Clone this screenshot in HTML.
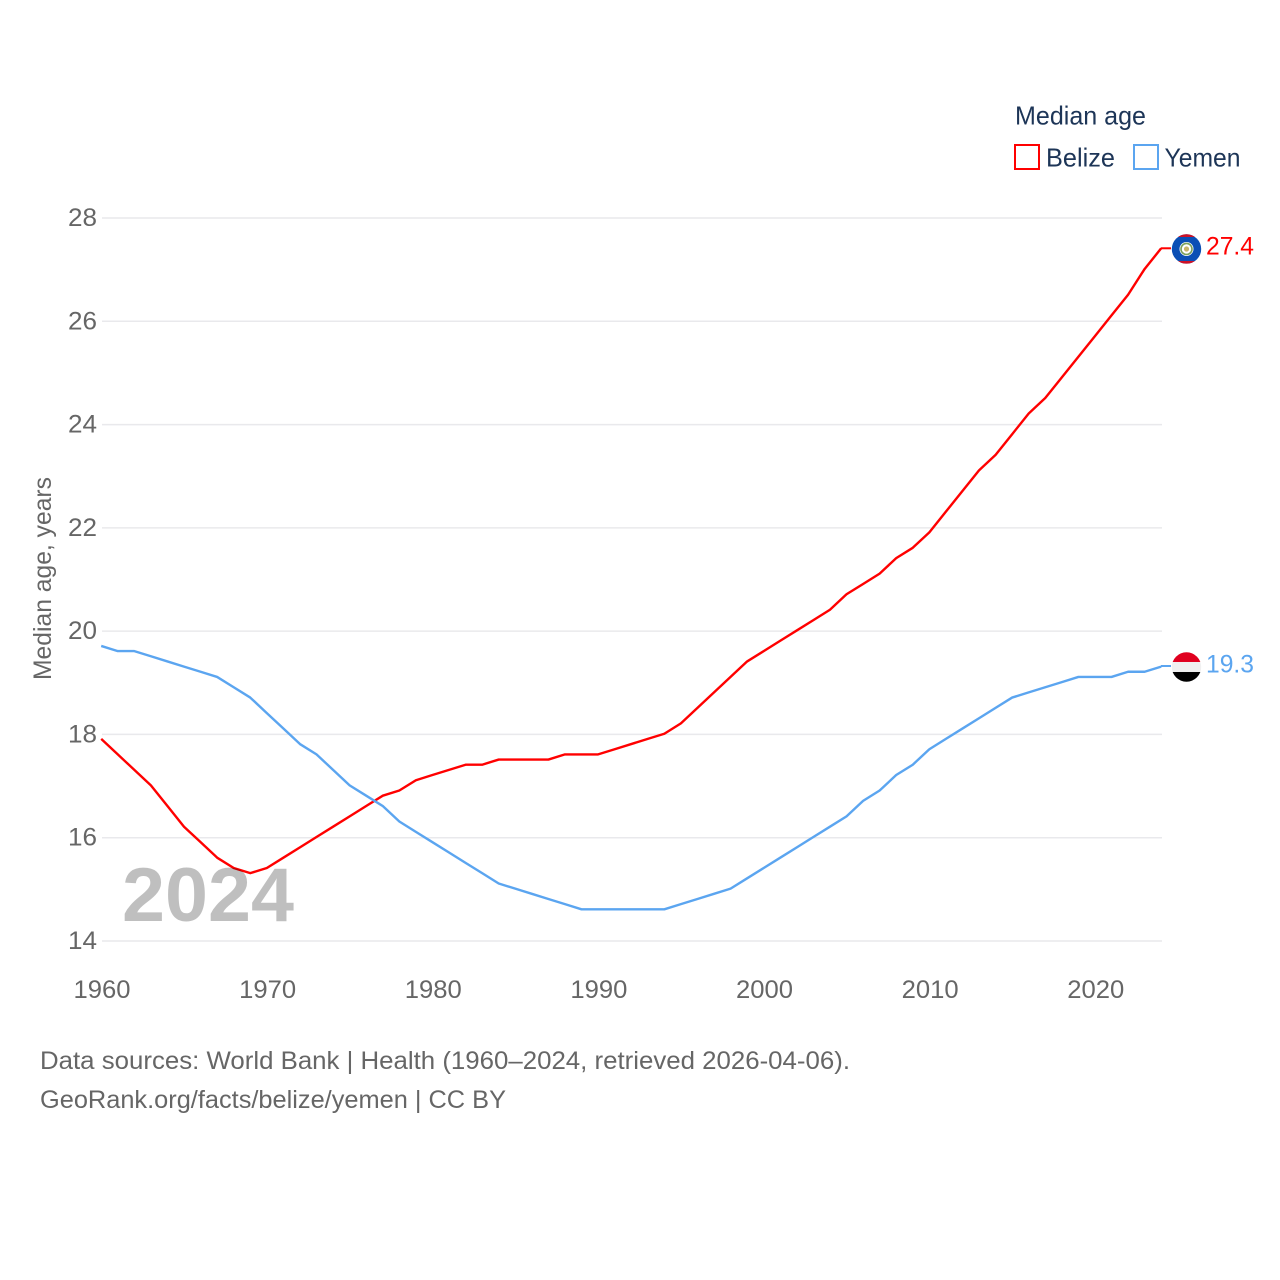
<!DOCTYPE html>
<html lang="en">
<head>
<meta charset="utf-8">
<title>Median age: Belize and Yemen</title>
<style>
html,body{margin:0;padding:0;background:#fff;}
svg{display:block;}
text{font-family:"Liberation Sans",sans-serif;}
</style>
</head>
<body>
<svg id="chart" xmlns="http://www.w3.org/2000/svg" width="1280" height="1280" viewBox="0 0 1280 1280">
  <rect width="1280" height="1280" fill="#ffffff"/>
  <g id="grid"></g>
  <g id="yticks"></g>
  <g id="xticks"></g>
  <text transform="translate(51,680) rotate(-90)" font-size="25" fill="#666666" textLength="203" lengthAdjust="spacingAndGlyphs">Median age, years</text>
  <g id="series" transform="translate(-0.8,-0.7)"></g>
  <text id="watermark" x="122" y="921" font-size="76" font-weight="700" fill="#000000" fill-opacity="0.25" textLength="172" lengthAdjust="spacingAndGlyphs">2024</text>

  <g>
    <text x="1015" y="124.5" font-size="26" fill="#1d3557" textLength="131" lengthAdjust="spacingAndGlyphs">Median age</text>
    <g>
      <rect x="1015" y="145" width="24" height="24" fill="none" stroke="#ff0000" stroke-width="2"/>
      <text x="1046" y="166.5" font-size="26" fill="#1d3557" textLength="69" lengthAdjust="spacingAndGlyphs">Belize</text>
    </g>
    <g>
      <rect x="1134" y="145" width="24" height="24" fill="none" stroke="#5ba5f0" stroke-width="2"/>
      <text x="1164.5" y="166.5" font-size="26" fill="#1d3557" textLength="76" lengthAdjust="spacingAndGlyphs">Yemen</text>
    </g>
  </g>

  <g id="endmarks"></g>

  <defs>
    <clipPath id="flagclip-b"><circle id="clip-b" cx="1186.5" cy="249" r="14.7"/></clipPath>
    <clipPath id="flagclip-y"><circle id="clip-y" cx="1186.5" cy="667" r="14.7"/></clipPath>
  </defs>

  <text x="40" y="1069" font-size="25" fill="#666666" textLength="810" lengthAdjust="spacingAndGlyphs">Data sources: World Bank | Health (1960–2024, retrieved 2026-04-06).</text>
  <text x="40" y="1108" font-size="25" fill="#666666" textLength="466" lengthAdjust="spacingAndGlyphs">GeoRank.org/facts/belize/yemen | CC BY</text>
</svg>
<script>
const years = [1960,1961,1962,1963,1964,1965,1966,1967,1968,1969,1970,1971,1972,1973,1974,1975,1976,1977,1978,1979,1980,1981,1982,1983,1984,1985,1986,1987,1988,1989,1990,1991,1992,1993,1994,1995,1996,1997,1998,1999,2000,2001,2002,2003,2004,2005,2006,2007,2008,2009,2010,2011,2012,2013,2014,2015,2016,2017,2018,2019,2020,2021,2022,2023,2024];
const belize = [17.9,17.6,17.3,17.0,16.6,16.2,15.9,15.6,15.4,15.3,15.4,15.6,15.8,16.0,16.2,16.4,16.6,16.8,16.9,17.1,17.2,17.3,17.4,17.4,17.5,17.5,17.5,17.5,17.6,17.6,17.6,17.7,17.8,17.9,18.0,18.2,18.5,18.8,19.1,19.4,19.6,19.8,20.0,20.2,20.4,20.7,20.9,21.1,21.4,21.6,21.9,22.3,22.7,23.1,23.4,23.8,24.2,24.5,24.9,25.3,25.7,26.1,26.5,27.0,27.4];
const yemen = [19.7,19.6,19.6,19.5,19.4,19.3,19.2,19.1,18.9,18.7,18.4,18.1,17.8,17.6,17.3,17.0,16.8,16.6,16.3,16.1,15.9,15.7,15.5,15.3,15.1,15.0,14.9,14.8,14.7,14.6,14.6,14.6,14.6,14.6,14.6,14.7,14.8,14.9,15.0,15.2,15.4,15.6,15.8,16.0,16.2,16.4,16.7,16.9,17.2,17.4,17.7,17.9,18.1,18.3,18.5,18.7,18.8,18.9,19.0,19.1,19.1,19.1,19.2,19.2,19.3];
const yTickValues = [14,16,18,20,22,24,26,28];
const xTickValues = [1960,1970,1980,1990,2000,2010,2020];

const NS = 'http://www.w3.org/2000/svg';
const xScale = function (year) { return 102 + (year - 1960) * (1162 - 102) / (2024 - 1960); };
const yScale = function (value) { return 941 - (value - 14) * (941 - 218) / (28 - 14); };

function make(tag, parent, attrs, content) {
  const el = document.createElementNS(NS, tag);
  Object.keys(attrs).forEach(function (k) { el.setAttribute(k, attrs[k]); });
  if (content !== undefined) el.textContent = content;
  parent.appendChild(el);
  return el;
}

const gridLayer = document.getElementById('grid');
const yLayer = document.getElementById('yticks');
const xLayer = document.getElementById('xticks');
const seriesLayer = document.getElementById('series');
const endLayer = document.getElementById('endmarks');

yTickValues.forEach(function (v) {
  const line = make('line', gridLayer, {x1: 102, x2: 1162, y1: yScale(v), y2: yScale(v), stroke: '#e9e9ec', 'stroke-width': 1.5});
  
  
  const label = make('text', yLayer, {x: 97, y: yScale(v) + 8, 'text-anchor': 'end', 'font-size': 25, fill: '#666666', textLength: 29, lengthAdjust: 'spacingAndGlyphs'}, String(v));
  
  
});

xTickValues.forEach(function (v) {
  const label = make('text', xLayer, {x: xScale(v), y: 998, 'text-anchor': 'middle', 'font-size': 25, fill: '#666666', textLength: 57, lengthAdjust: 'spacingAndGlyphs'}, String(v));
  
  
});

function pointsFor(values) {
  return values.map(function (v, i) { return xScale(years[i]).toFixed(2) + ',' + yScale(v).toFixed(2); }).join(' ');
}

const belizeLine = make('polyline', seriesLayer, {points: pointsFor(belize), fill: 'none', stroke: '#ff0000', 'stroke-width': 2.4, 'stroke-linejoin': 'round'});



const yemenLine = make('polyline', seriesLayer, {points: pointsFor(yemen), fill: 'none', stroke: '#5ba5f0', 'stroke-width': 2.4, 'stroke-linejoin': 'round'});



const lastYear = years[years.length - 1];
const belizeLast = belize[belize.length - 1];
const yemenLast = yemen[yemen.length - 1];
const bx = 1186.5, by = yScale(belizeLast);
const yx = 1186.5, yy = yScale(yemenLast) - 0.3;

document.getElementById('clip-b').setAttribute('cy', by);
document.getElementById('clip-y').setAttribute('cy', yy);

const belizeConnector = make('line', endLayer, {x1: xScale(lastYear) - 1, x2: 1171, y1: by - 0.7, y2: by - 0.7, stroke: '#ff0000', 'stroke-width': 2});



const yemenConnector = make('line', endLayer, {x1: xScale(lastYear) - 1, x2: 1171, y1: yy - 1, y2: yy - 1, stroke: '#5ba5f0', 'stroke-width': 2});



const belizeFlag = make('g', endLayer, {'clip-path': 'url(#flagclip-b)'});


make('rect', belizeFlag, {x: bx - 15, y: by - 15, width: 30, height: 30, fill: '#0b4fb5'});
make('rect', belizeFlag, {x: bx - 15, y: by - 15, width: 30, height: 3, fill: '#ce1126'});
make('rect', belizeFlag, {x: bx - 15, y: by + 12, width: 30, height: 3, fill: '#ce1126'});
make('circle', belizeFlag, {cx: bx, cy: by, r: 7, fill: '#ffffff'});
make('circle', belizeFlag, {cx: bx, cy: by, r: 5.5, fill: 'none', stroke: '#7aa05a', 'stroke-width': 1.6});
make('circle', belizeFlag, {cx: bx, cy: by, r: 2.6, fill: '#c9b56a'});

const yemenFlag = make('g', endLayer, {'clip-path': 'url(#flagclip-y)'});


make('rect', yemenFlag, {x: yx - 15, y: yy - 15, width: 30, height: 10, fill: '#e0001f'});
make('rect', yemenFlag, {x: yx - 15, y: yy - 5, width: 30, height: 10, fill: '#f0f0f0'});
make('rect', yemenFlag, {x: yx - 15, y: yy + 5, width: 30, height: 10, fill: '#000000'});

const belizeValue = make('text', endLayer, {x: 1206, y: by + 5.4, 'font-size': 25, fill: '#ff0000', textLength: 48, lengthAdjust: 'spacingAndGlyphs'}, belizeLast.toFixed(1));



const yemenValue = make('text', endLayer, {x: 1206, y: yy + 5.4, 'font-size': 25, fill: '#5ba5f0', textLength: 48, lengthAdjust: 'spacingAndGlyphs'}, yemenLast.toFixed(1));


</script>
</body>
</html>
